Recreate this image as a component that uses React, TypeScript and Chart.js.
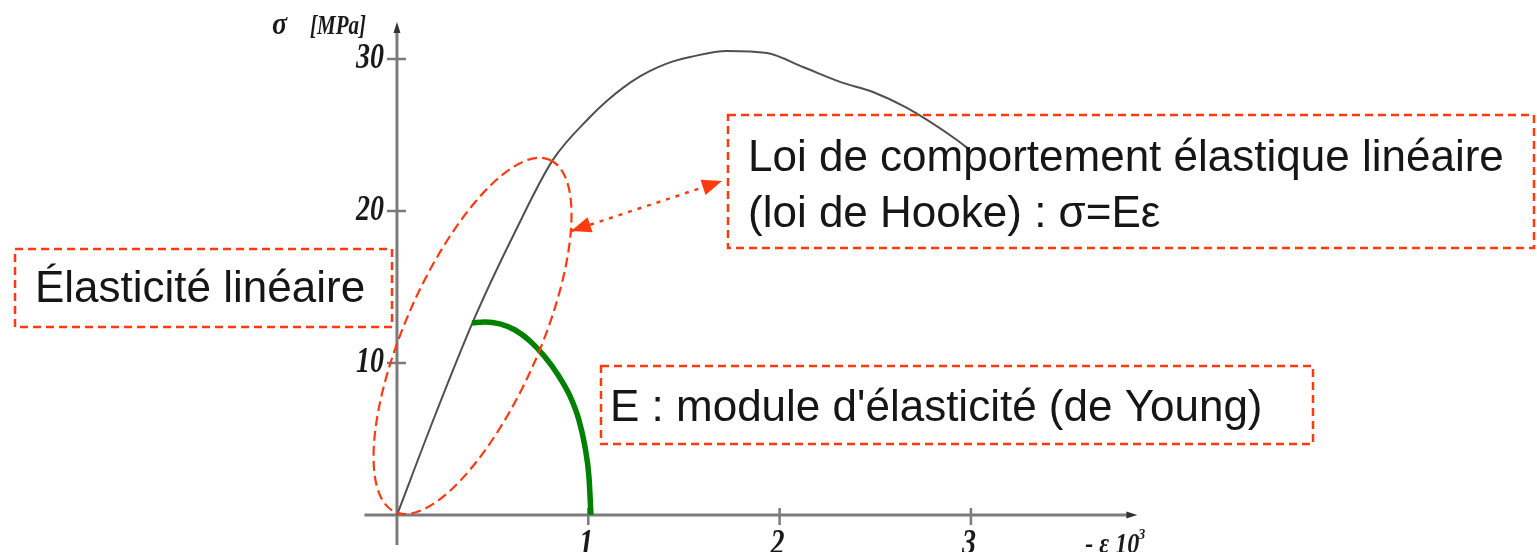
import React, { useEffect, useRef } from "react";
import { Chart, registerables } from "chart.js";

Chart.register(...registerables);

// Stress–strain curve of the material (strain in 10^-3, stress in MPa)
const strain = [0, 0.204, 0.408, 0.617, 0.815, 1.009, 1.098, 1.181, 1.27, 1.359, 1.443, 1.532, 1.725, 1.934, 2.122, 2.316, 2.488, 2.666, 2.927, 2.995];
const stress = [0, 6.71, 13.03, 18.62, 23.36, 26.18, 27.25, 28.1, 28.85, 29.43, 29.84, 30.13, 30.53, 30.39, 29.47, 28.49, 27.83, 26.78, 24.67, 24.01];

// Arc marking the slope of the elastic part (Young's modulus)
const arcStrain = [0.392, 0.46, 0.538, 0.617, 0.695, 0.774, 0.842, 0.904, 0.951, 0.983, 1.004, 1.014];
const arcStress = [12.63, 12.7, 12.57, 12.17, 11.45, 10.39, 9.21, 7.83, 6.25, 4.47, 2.43, 0];

// Axis ticks
const xTicks = [1, 2, 3];
const xTickLabels = ["1", "2", "3"];
const yTicks = [10, 20, 30];
const yTickLabels = ["10", "20", "30"];

// Axis extents (data units)
const xAxisSpan = [-0.17, 3.87];
const yAxisSpan = [-1.97, 32.43];

// Visible window of the scales
const xRange = [-2.075, 5.959];
const yRange = [-2.434, 33.88];

// Elastic zone: ends of the long axis of the dashed ellipse
const zoneStrain = [-0.01, 0.8];
const zoneStress = [0.2, 23.36];

// Double arrow linking the zone to the law
const arrowStrain = [0.91, 1.699];
const arrowStress = [18.68, 21.97];

const RED = "#ff3a0f";
const SANS = "'Liberation Sans', Arial, sans-serif";
const SERIF = "'Liberation Serif', 'Times New Roman', serif";

function stretchedText(ctx: CanvasRenderingContext2D, text: string, x: number, y: number, sy: number) {
  ctx.save();
  ctx.translate(x, y);
  ctx.scale(1, sy);
  ctx.fillText(text, 0, 0);
  ctx.restore();
}

function arrowHead(ctx: CanvasRenderingContext2D, tx: number, ty: number, fx: number, fy: number, len: number, half: number) {
  const ang = Math.atan2(ty - fy, tx - fx);
  const bx = tx - len * Math.cos(ang);
  const by = ty - len * Math.sin(ang);
  const nx = -Math.sin(ang) * half;
  const ny = Math.cos(ang) * half;
  ctx.beginPath();
  ctx.moveTo(tx, ty);
  ctx.lineTo(bx + nx, by + ny);
  ctx.lineTo(bx - nx, by - ny);
  ctx.closePath();
  ctx.fill();
}

const axesPlugin = {
  id: "stressAxes",
  beforeDatasetsDraw(chart: any) {
    const { ctx } = chart;
    const sx = chart.scales.x;
    const sy = chart.scales.y;
    const x0 = sx.getPixelForValue(0);
    const y0 = sy.getPixelForValue(0);
    const yTop = sy.getPixelForValue(yAxisSpan[1]);
    const yBot = sy.getPixelForValue(yAxisSpan[0]);
    const xL = sx.getPixelForValue(xAxisSpan[0]);
    const xR = sx.getPixelForValue(xAxisSpan[1]);

    ctx.save();
    ctx.strokeStyle = "#7b7b7b";
    ctx.lineWidth = 3;
    ctx.beginPath();
    ctx.moveTo(x0, yBot);
    ctx.lineTo(x0, yTop + 6);
    ctx.moveTo(xL, y0);
    ctx.lineTo(xR - 6, y0);
    ctx.stroke();

    // tick marks
    ctx.lineWidth = 2.5;
    ctx.beginPath();
    yTicks.forEach((v) => {
      const p = sy.getPixelForValue(v);
      ctx.moveTo(x0 - 10, p);
      ctx.lineTo(x0 + 9, p);
    });
    xTicks.forEach((v) => {
      const p = sx.getPixelForValue(v);
      ctx.moveTo(p, y0 - 7);
      ctx.lineTo(p, y0 + 10);
    });
    ctx.stroke();

    // arrow tips
    ctx.fillStyle = "#333";
    arrowHead(ctx, x0, yTop, x0, yTop + 20, 11, 3.5);
    arrowHead(ctx, xR, y0, xR - 20, y0, 11, 3.5);

    // tick labels
    ctx.fillStyle = "#1a1a1a";
    ctx.font = `italic bold 28px ${SERIF}`;
    ctx.textAlign = "right";
    ctx.textBaseline = "alphabetic";
    yTicks.forEach((v, i) => {
      const p = sy.getPixelForValue(v);
      stretchedText(ctx, yTickLabels[i], x0 - 13, p + 9, 1.25);
    });
    ctx.textAlign = "center";
    xTicks.forEach((v, i) => {
      const p = sx.getPixelForValue(v);
      stretchedText(ctx, xTickLabels[i], p - 2, y0 + 39, 1.25);
    });

    // axis titles
    ctx.textAlign = "left";
    ctx.font = `italic bold 28px ${SERIF}`;
    stretchedText(ctx, "σ", x0 - 125, yTop + 12, 1.15);
    ctx.font = `italic bold 21px ${SERIF}`;
    stretchedText(ctx, "[MPa]", x0 - 87, yTop + 12, 1.3);
    ctx.font = `italic bold 24px ${SERIF}`;
    stretchedText(ctx, "- ε 10", xR - 52, y0 + 38, 1.2);
    ctx.font = `italic bold 14px ${SERIF}`;
    ctx.fillText("3", xR + 1, y0 + 24);
    ctx.restore();
  },
};

const notesPlugin = {
  id: "elasticNotes",
  afterDatasetsDraw(chart: any) {
    const { ctx } = chart;
    const sx = chart.scales.x;
    const sy = chart.scales.y;
    ctx.save();

    // dashed ellipse around the linear part
    const ax = sx.getPixelForValue(zoneStrain[0]);
    const ay = sy.getPixelForValue(zoneStress[0]);
    const bx = sx.getPixelForValue(zoneStrain[1]);
    const by = sy.getPixelForValue(zoneStress[1]);
    const a = Math.hypot(bx - ax, by - ay) / 2;
    ctx.strokeStyle = RED;
    ctx.lineWidth = 2.2;
    ctx.setLineDash([10, 5]);
    ctx.beginPath();
    ctx.ellipse((ax + bx) / 2, (ay + by) / 2, a, a * 0.35, Math.atan2(by - ay, bx - ax), 0, Math.PI * 2);
    ctx.stroke();

    // dotted double arrow
    const p1x = sx.getPixelForValue(arrowStrain[0]);
    const p1y = sy.getPixelForValue(arrowStress[0]);
    const p2x = sx.getPixelForValue(arrowStrain[1]);
    const p2y = sy.getPixelForValue(arrowStress[1]);
    ctx.setLineDash([4, 6]);
    ctx.lineWidth = 2.5;
    ctx.beginPath();
    ctx.moveTo(p1x, p1y);
    ctx.lineTo(p2x, p2y);
    ctx.stroke();
    ctx.setLineDash([]);
    ctx.fillStyle = RED;
    arrowHead(ctx, p1x, p1y, p2x, p2y, 20, 8);
    arrowHead(ctx, p2x, p2y, p1x, p1y, 20, 8);

    // framed captions
    ctx.setLineDash([8, 5]);
    ctx.lineWidth = 2.5;
    ctx.strokeStyle = RED;
    ctx.strokeRect(15, 249, 377, 78);
    ctx.strokeRect(728, 115, 806, 133);
    ctx.strokeRect(601, 366, 712, 78);

    ctx.fillStyle = "#161616";
    ctx.font = `44px ${SANS}`;
    ctx.textAlign = "left";
    ctx.textBaseline = "alphabetic";
    ctx.fillText("Élasticité linéaire", 35, 302);
    ctx.fillText("Loi de comportement élastique linéaire", 748, 171);
    ctx.fillText("(loi de Hooke) : σ=Eε", 748, 227);
    ctx.fillText("E : module d'élasticité (de Young)", 610, 421);
    ctx.restore();
  },
};

export default function App() {
  const canvasRef = useRef<HTMLCanvasElement | null>(null);

  useEffect(() => {
    const canvas = canvasRef.current;
    if (!canvas) return;
    const chart = new Chart(canvas, {
      type: "scatter",
      data: {
        datasets: [
          {
            label: "σ(ε)",
            data: strain.map((x, i) => ({ x, y: stress[i] })),
            showLine: true,
            borderColor: "#505050",
            borderWidth: 2,
            cubicInterpolationMode: "monotone",
            pointRadius: 0,
            order: 2,
          },
          {
            label: "E",
            data: arcStrain.map((x, i) => ({ x, y: arcStress[i] })),
            showLine: true,
            borderColor: "#008000",
            borderWidth: 5.5,
            cubicInterpolationMode: "monotone",
            pointRadius: 0,
            order: 1,
          },
        ],
      },
      options: {
        responsive: false,
        animation: false,
        devicePixelRatio: 1,
        layout: { padding: 0 },
        plugins: {
          legend: { display: false },
          tooltip: { enabled: false },
          title: { display: false },
        },
        scales: {
          x: { type: "linear", min: xRange[0], max: xRange[1], display: false },
          y: { type: "linear", min: yRange[0], max: yRange[1], display: false },
        },
      },
      plugins: [axesPlugin, notesPlugin],
    });
    return () => chart.destroy();
  }, []);

  return (
    <div style={{ position: "absolute", left: 0, top: 0, width: 1537, height: 552, background: "#fff" }}>
      <canvas ref={canvasRef} width={1537} height={552} style={{ display: "block" }} />
    </div>
  );
}
